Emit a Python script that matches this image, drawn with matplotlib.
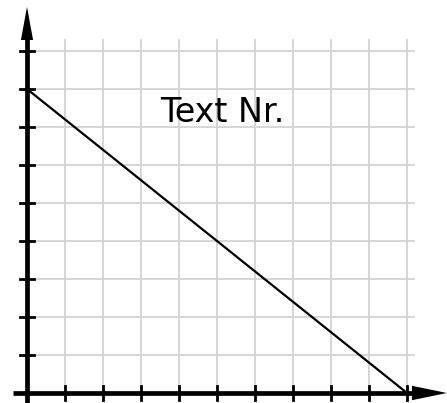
import matplotlib
matplotlib.use("Agg")
import matplotlib.pyplot as plt

# data
line_x = [0, 10]
line_y = [8, 0]
x_ticks = [1, 2, 3, 4, 5, 6, 7, 8, 9, 10]
y_ticks = [1, 2, 3, 4, 5, 6, 7, 8, 9]
label_text = "Text Nr."

fig = plt.figure(figsize=(4.47, 4.03), dpi=100)
ax = fig.add_axes([0, 0, 1, 1])
ax.set_xlim(-27 / 38, 420 / 38)
ax.set_ylim(-10 / 38, 393 / 38)
ax.axis("off")

grid_color = "#d3d3d3"
grid_top = 9.29
grid_right = 10.18
for xv in x_ticks:
    ax.plot([xv, xv], [0, grid_top], color=grid_color, lw=1.3, zorder=1)
for yv in y_ticks:
    ax.plot([0, grid_right], [yv, yv], color=grid_color, lw=1.3, zorder=1)

# main line
ax.plot(line_x, line_y, color="black", lw=1.6, zorder=3, solid_capstyle="butt")

# axes lines
ax.plot([-0.37, 10.2], [0, 0], color="black", lw=3.4, zorder=4, solid_capstyle="butt")
ax.plot([0, 0], [-0.3, 9.35], color="black", lw=3.4, zorder=4, solid_capstyle="butt")
# arrow heads
ax.fill([10.13, 11.05, 10.13], [-0.19, 0, 0.19], color="black", lw=0, zorder=4)
ax.fill([-0.16, 0, 0.16], [9.29, 10.16, 9.29], color="black", lw=0, zorder=4)

# ticks
tl = 0.19
for xv in x_ticks:
    ax.plot([xv, xv], [-tl, tl], color="black", lw=2.0, zorder=4)
for yv in y_ticks:
    ax.plot([-tl, tl], [yv, yv], color="black", lw=2.0, zorder=4)

ax.text(5.13, 7.39, label_text, fontsize=24, ha="center", va="center",
        family="DejaVu Sans", zorder=5)

fig.savefig("out.png", dpi=100)
